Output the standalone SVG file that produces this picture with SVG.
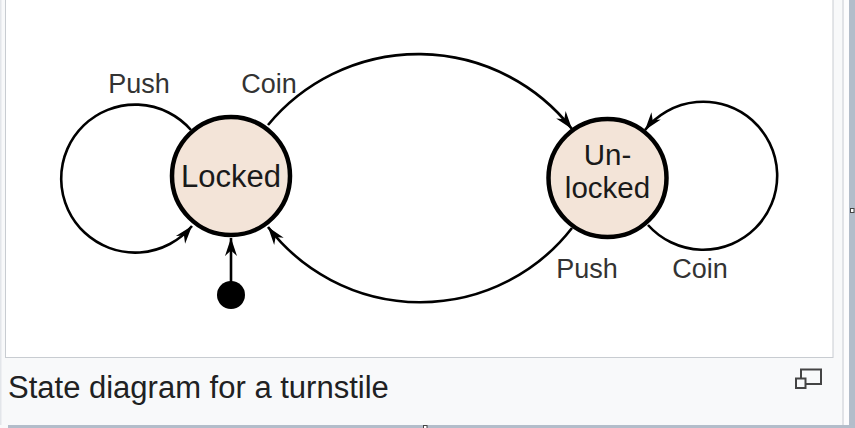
<svg xmlns="http://www.w3.org/2000/svg" width="855" height="428" viewBox="0 0 855 428">
  <defs>
    <style>
      .state { fill: #f3e4d8; stroke: #000; stroke-width: 4.5; }
      .stext { font-family: "Liberation Sans", Arial, sans-serif; font-size: 31px; fill: #1a1a1a; text-anchor: middle; }
      .stext2 { font-family: "Liberation Sans", Arial, sans-serif; font-size: 29.5px; fill: #1a1a1a; text-anchor: middle; }
      .label { font-family: "Liberation Sans", Arial, sans-serif; font-size: 27px; fill: #333; text-anchor: middle; }
      .edge { fill: none; stroke: #000; stroke-width: 2.6; marker-end: url(#arrow); }
      .caption { font-family: "Liberation Sans", Arial, sans-serif; font-size: 31px; fill: #202122; }
    </style>
    <marker id="arrow" markerUnits="userSpaceOnUse" markerWidth="22" markerHeight="16" viewBox="0 -8 20 16" refX="18" refY="0" orient="auto">
      <path d="M18,0 L0,-6 L5.5,0 L0,6 Z" fill="#000"/>
    </marker>
  </defs>

  <!-- frame -->
  <rect x="0" y="0" width="855" height="428" fill="#f8f9fa"/>
  <rect x="0" y="0" width="1.5" height="425" fill="#e3e6ea"/>
  <rect x="5.5" y="-2" width="827.5" height="359.5" fill="#fff" stroke="#c8ccd1" stroke-width="1"/>
  <rect x="842.5" y="0" width="1" height="425" fill="#c8ccd1"/>
  <rect x="844" y="0" width="5" height="425" fill="#fcfcfd"/>
  <rect x="849" y="0" width="6" height="428" fill="#b3bdca"/>
  <rect x="8" y="425" width="847" height="3" fill="#b3bdca"/>
  <rect x="850.5" y="208.5" width="3.5" height="4" fill="#fff" stroke="#444" stroke-width="1"/>
  <rect x="423.5" y="425.5" width="3.5" height="3" fill="#fff" stroke="#444" stroke-width="1"/>

  <!-- connectors -->
  <g id="connectors">
    <path class="edge" d="M191,130 A74,74 0 1,0 192,226"/>
    <path class="edge" d="M268,125 A195,195 0 0,1 572,129"/>
    <path class="edge" d="M572,228 A192,192 0 0,1 268,227"/>
    <path class="edge" d="M648,225 A74,74 0 1,0 645,130"/>
    <line class="edge" x1="231" y1="282" x2="231" y2="238"/>
    <text class="label" x="139" y="93">Push</text>
    <text class="label" x="269" y="93">Coin</text>
    <text class="label" x="587" y="278">Push</text>
    <text class="label" x="700" y="278">Coin</text>
  </g>

  <g id="start">
    <circle cx="231" cy="295" r="14" fill="#000"/>
  </g>

  <g id="locked">
    <circle class="state" cx="231" cy="176" r="59"/>
    <text class="stext" x="231" y="187">Locked</text>
  </g>

  <g id="unlocked">
    <circle class="state" cx="607.5" cy="178" r="59"/>
    <text class="stext2" x="607.5" y="165">Un-</text>
    <text class="stext2" x="607.5" y="198">locked</text>
  </g>

  <!-- caption -->
  <text class="caption" x="8" y="398">State diagram for a turnstile</text>
  <g id="enlarge-icon">
    <rect x="801" y="369.5" width="20" height="14.5" fill="none" stroke="#444" stroke-width="2"/>
    <rect x="796" y="378.5" width="9.5" height="9.5" fill="#f8f9fa" stroke="#444" stroke-width="2"/>
  </g>
</svg>
